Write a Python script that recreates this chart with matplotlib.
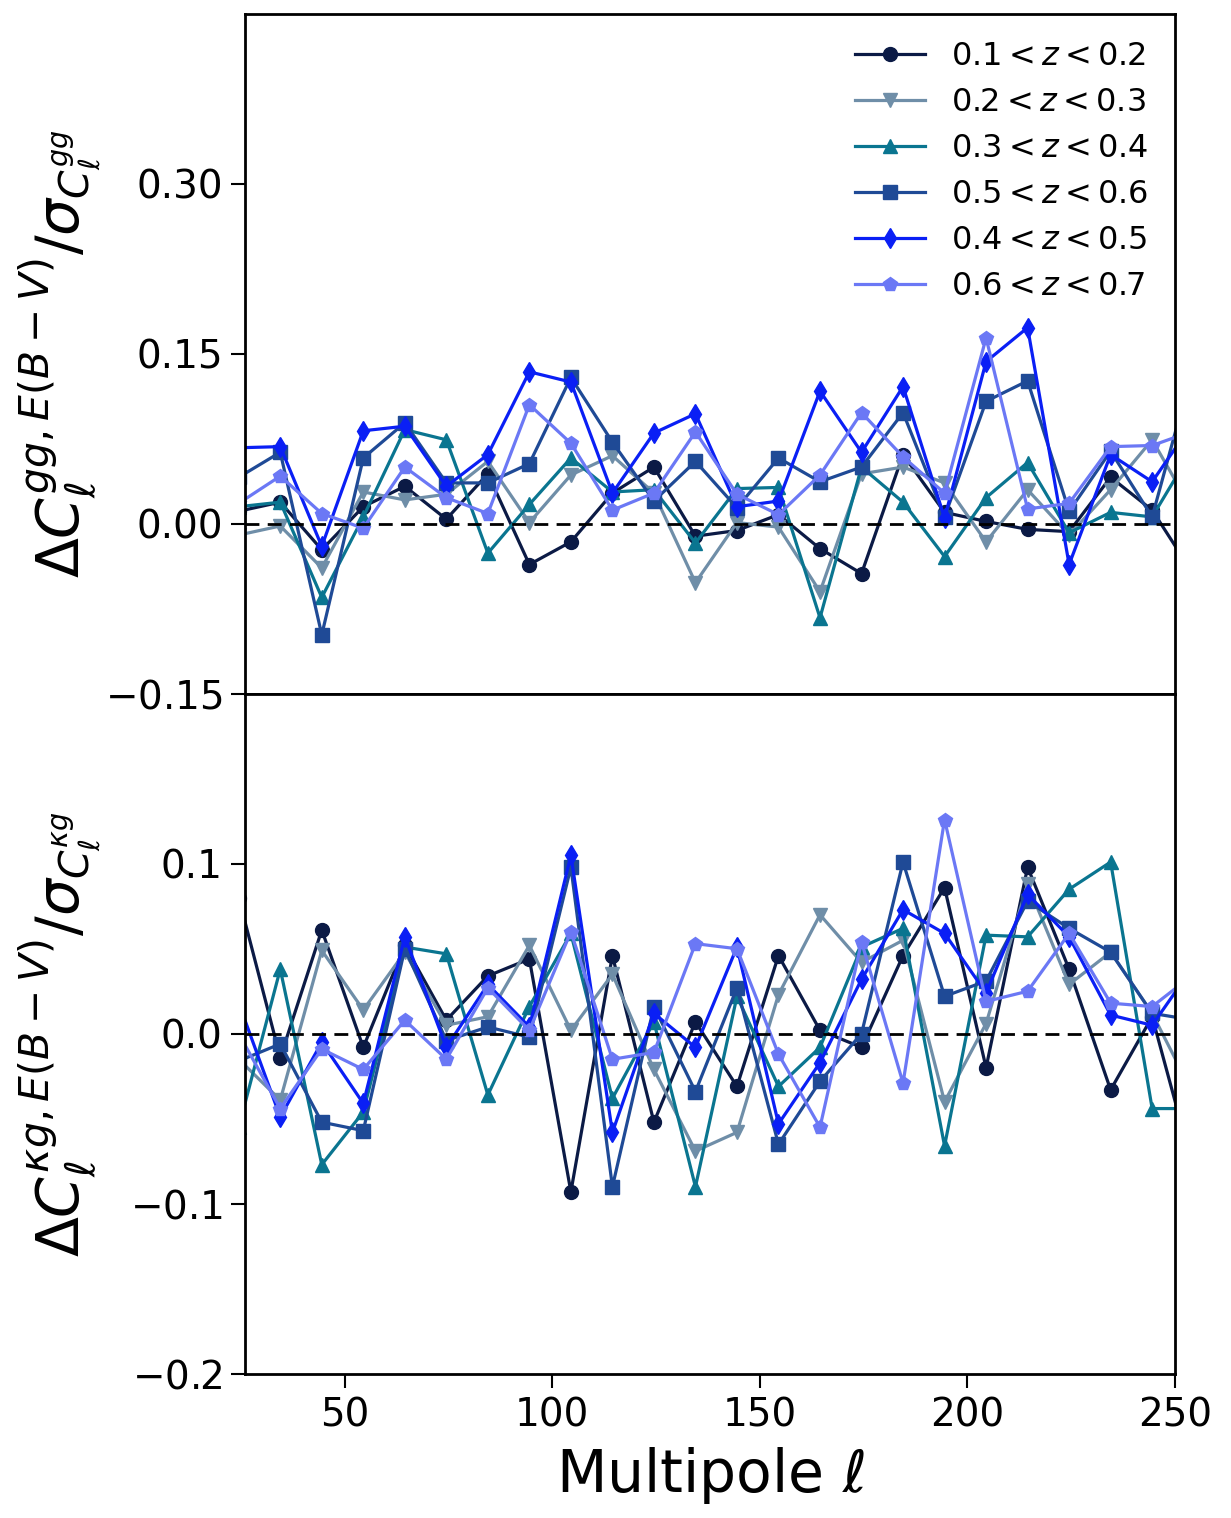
import numpy as np
import matplotlib
matplotlib.use('Agg')
import matplotlib.pyplot as plt

# multipole bin centres (first and last sit just outside the plotted range)
ell = [24.5, 34.5, 44.5, 54.5, 64.5, 74.5, 84.5, 94.5, 104.5, 114.5, 124.5, 134.5,
       144.5, 154.5, 164.5, 174.5, 184.5, 194.5, 204.5, 214.5, 224.5, 234.5, 244.5, 254.5]

labels = [r'$0.1 < z < 0.2$', r'$0.2 < z < 0.3$', r'$0.3 < z < 0.4$',
          r'$0.5 < z < 0.6$', r'$0.4 < z < 0.5$', r'$0.6 < z < 0.7$']
colors = ['#0b1a45', '#6f8ea8', '#0a7590', '#1f4a96', '#0a1ff5', '#6b78f5']
markers = ['o', 'v', '^', 's', 'd', 'p']

# Delta C_l^{gg} / sigma
gg_z1 = [0.011, 0.019, -0.023, 0.015, 0.033, 0.004, 0.044, -0.036, -0.016, 0.027, 0.050, -0.011,
         -0.006, 0.008, -0.022, -0.044, 0.061, 0.010, 0.002, -0.005, -0.007, 0.041, 0.012, -0.045]
gg_z2 = [-0.010, -0.002, -0.039, 0.028, 0.021, 0.026, 0.055, 0.001, 0.043, 0.060, 0.027, -0.052,
         0.001, -0.003, -0.060, 0.044, 0.050, 0.036, -0.016, 0.030, -0.010, 0.030, 0.074, 0.010]
gg_z3 = [0.015, 0.019, -0.065, 0.006, 0.083, 0.074, -0.026, 0.017, 0.058, 0.028, 0.030, -0.017,
         0.031, 0.032, -0.083, 0.050, 0.019, -0.029, 0.023, 0.054, -0.008, 0.010, 0.006, 0.067]
gg_z5 = [0.041, 0.063, -0.098, 0.058, 0.089, 0.036, 0.036, 0.053, 0.129, 0.072, 0.020, 0.055,
         0.014, 0.058, 0.037, 0.050, 0.098, 0.006, 0.108, 0.126, 0.011, 0.064, 0.006, 0.140]
gg_z4 = [0.067, 0.068, -0.020, 0.082, 0.086, 0.033, 0.061, 0.134, 0.125, 0.027, 0.080, 0.097,
         0.015, 0.020, 0.117, 0.063, 0.121, 0.005, 0.143, 0.173, -0.036, 0.061, 0.037, 0.090]
gg_z6 = [0.018, 0.042, 0.009, -0.004, 0.050, 0.023, 0.009, 0.105, 0.071, 0.012, 0.027, 0.081,
         0.026, 0.008, 0.043, 0.098, 0.059, 0.027, 0.164, 0.013, 0.018, 0.068, 0.069, 0.082]

# Delta C_l^{kappa g} / sigma
kg_z1 = [0.080, -0.014, 0.061, -0.008, 0.052, 0.008, 0.034, 0.044, -0.093, 0.046, -0.052, 0.007,
         -0.031, 0.046, 0.002, -0.008, 0.046, 0.086, -0.020, 0.098, 0.038, -0.033, 0.010, -0.080]
kg_z2 = [-0.015, -0.039, 0.049, 0.014, 0.048, 0.005, 0.010, 0.052, 0.002, 0.035, -0.021, -0.069,
         -0.058, 0.023, 0.070, 0.042, 0.055, -0.040, 0.006, 0.088, 0.029, 0.048, 0.012, -0.036]
kg_z3 = [-0.055, 0.038, -0.077, -0.046, 0.051, 0.047, -0.036, 0.016, 0.059, -0.038, 0.007, -0.090,
         0.022, -0.031, -0.008, 0.051, 0.062, -0.066, 0.058, 0.057, 0.085, 0.101, -0.044, -0.044]
kg_z5 = [-0.016, -0.006, -0.052, -0.057, 0.050, -0.004, 0.004, -0.002, 0.098, -0.090, 0.016, -0.034,
         0.027, -0.065, -0.028, 0.000, 0.101, 0.022, 0.031, 0.078, 0.062, 0.048, 0.012, 0.008]
kg_z4 = [0.018, -0.049, -0.005, -0.041, 0.057, -0.008, 0.029, 0.004, 0.105, -0.058, 0.012, -0.008,
         0.051, -0.053, -0.017, 0.032, 0.073, 0.059, 0.024, 0.082, 0.057, 0.011, 0.005, 0.040]
kg_z6 = [0.000, -0.044, -0.009, -0.021, 0.008, -0.015, 0.027, 0.002, 0.060, -0.015, -0.011, 0.053,
         0.050, -0.012, -0.055, 0.054, -0.029, 0.126, 0.019, 0.025, 0.059, 0.018, 0.016, 0.035]

gg_all = [gg_z1, gg_z2, gg_z3, gg_z5, gg_z4, gg_z6]
kg_all = [kg_z1, kg_z2, kg_z3, kg_z5, kg_z4, kg_z6]

fig, (ax1, ax2) = plt.subplots(2, 1, sharex=True, figsize=(12.31, 15.18), dpi=100)
fig.subplots_adjust(left=0.199, right=0.9545, top=0.991, bottom=0.095, hspace=0)

for ax, data in [(ax1, gg_all), (ax2, kg_all)]:
    for y, c, m, lab in zip(data, colors, markers, labels):
        ax.plot(ell, y, color=c, marker=m, markersize=10, linewidth=2.3, label=lab)
    ax.axhline(0, color='black', linestyle='--', linewidth=2, dashes=(5, 3))
    for s in ax.spines.values():
        s.set_linewidth(2)
    ax.tick_params(axis='both', labelsize=28, length=10, width=1.5, direction='out', pad=6)

ax1.set_xlim(26, 250)
ax1.set_ylim(-0.15, 0.45)
ax1.set_yticks([-0.15, 0.0, 0.15, 0.30])
ax1.set_yticklabels(['$-0.15$', '0.00', '0.15', '0.30'])
ax1.tick_params(axis='x', bottom=False, labelbottom=False)
ax1.set_ylabel(r'$\Delta C_\ell^{gg,E(B-V)}/\sigma_{C_\ell^{gg}}$', fontsize=42, labelpad=1)

ax2.set_ylim(-0.2, 0.2)
ax2.set_yticks([-0.2, -0.1, 0.0, 0.1])
ax2.set_yticklabels(['$-0.2$', '$-0.1$', '0.0', '0.1'])
ax2.set_xticks([50, 100, 150, 200, 250])
ax2.set_ylabel(r'$\Delta C_\ell^{\kappa g,E(B-V)}/\sigma_{C_\ell^{\kappa g}}$', fontsize=42, labelpad=1)
ax2.set_xlabel(r'Multipole $\ell$', fontsize=42, labelpad=8)

ax1.legend(loc='upper right', frameon=False, fontsize=23, handlelength=2.2,
           labelspacing=0.47, borderaxespad=0.45)

fig.align_ylabels([ax1, ax2])
plt.savefig('out.png', dpi=100)
